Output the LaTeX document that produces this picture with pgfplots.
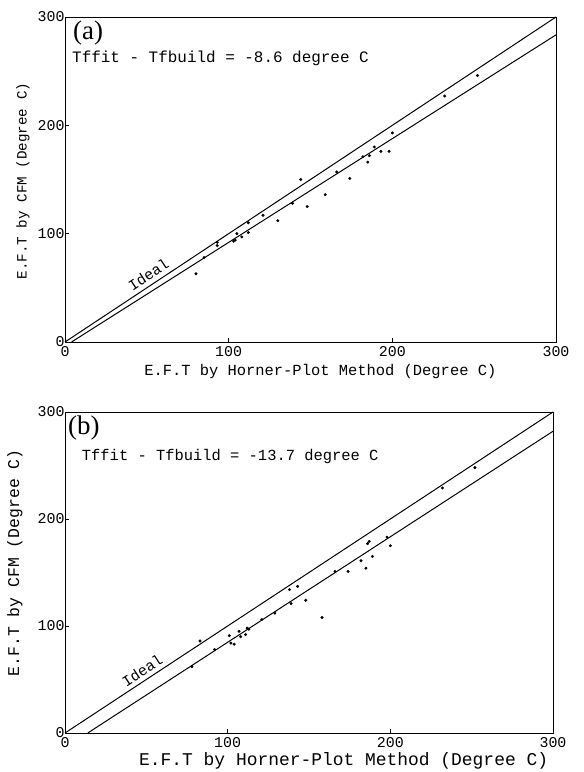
\documentclass[border=0pt]{standalone}
\usepackage{fontspec}
\setmainfont{Liberation Serif}
\newfontfamily\mono{Liberation Mono}
\usepackage{pgfplots}
\pgfplotsset{compat=1.18}

\newcommand{\tickfnt}{\mono\fontsize{15}{15}\selectfont}

\pgfplotsset{
  eft/.style={
    scale only axis,
    anchor=south west,
    xmin=0, xmax=300, ymin=0, ymax=300,
    xtick={0,100,200,300}, ytick={0,100,200,300},
    tick align=inside, xtick pos=bottom, ytick pos=left,
    major tick length=4bp,
    axis line style={line width=0.9bp},
    tick style={line width=0.8bp, black},
    /pgf/number format/assume math mode=true,
    tick label style={font=\tickfnt},
    xticklabel style={anchor=north, yshift=-1bp},
    yticklabel style={anchor=east, xshift=3bp},
    clip=false,
  },
  fitline/.style={black, line width=1bp},
  pts/.style={only marks, mark=*, mark size=1.3bp, black},
}

\begin{document}
\begin{tikzpicture}
\path[use as bounding box] (0,0) rectangle (584bp,772bp);

% ---- panel (a)
\begin{axis}[eft, at={(65bp,430bp)}, width=491bp, height=325bp]
\addplot[fitline] coordinates {(0,0) (300,300)};
\addplot[fitline] coordinates {(4,0) (300,283.5)};
\addplot[pts] coordinates {
  (80,63) (85,78) (93,89) (93,92) (103,93) (104,94) (105,100) (108,97)
  (112,110) (112,101) (121,117) (130,112) (139,128) (144,150) (148,125)
  (159,136) (166,157) (174,151) (182,171) (185,166) (186,172) (189,180)
  (193,176) (198,176) (200,193) (232,227) (252,246)
};
\node[font=\mono\fontsize{15}{15}\selectfont, rotate=33.5, inner sep=0pt] at (axis cs:51,62) {Ideal};
\node[anchor=west, font=\fontsize{27}{27}\selectfont, inner sep=0pt] at (axis cs:4.9,285) {(a)};
\node[anchor=west, font=\mono\fontsize{16}{16}\selectfont, inner sep=0pt] at (axis cs:4.3,262) {Tffit - Tfbuild = -8.6 degree C};
\node[font=\mono\fontsize{15.5}{15.5}\selectfont] at ([yshift=-30bp]rel axis cs:0.52,0) {E.F.T by Horner-Plot Method (Degree C)};
\node[font=\mono\fontsize{14.3}{14.3}\selectfont, rotate=90] at ([xshift=-42bp]rel axis cs:0,0.495) {E.F.T by CFM (Degree C)};
\end{axis}

% ---- panel (b)
\begin{axis}[eft, at={(65bp,39bp)}, width=488bp, height=321bp]
\addplot[fitline] coordinates {(0,0) (300,300)};
\addplot[fitline] coordinates {(14,0) (300,282)};
\addplot[pts] coordinates {
  (78,62) (83,86) (92,78) (101,91) (102,84) (104,83) (107,95) (108,90)
  (111,92) (112,98) (113,97) (121,106) (129,112) (138,134) (143,137)
  (139,121) (148,124) (158,108) (166,151) (174,151) (182,161) (185,154)
  (186,177) (187,179) (189,165) (198,183) (200,175) (232,229) (252,248)
};
\node[font=\mono\fontsize{15}{15}\selectfont, rotate=33.3, inner sep=0pt] at (axis cs:47.5,58.5) {Ideal};
\node[anchor=west, font=\fontsize{27}{27}\selectfont, inner sep=0pt] at (axis cs:1.8,285) {(b)};
\node[anchor=west, font=\mono\fontsize{15.5}{15.5}\selectfont, inner sep=0pt] at (axis cs:10.3,258) {Tffit - Tfbuild = -13.7 degree C};
\node[font=\mono\fontsize{18}{18}\selectfont] at ([yshift=-28bp]rel axis cs:0.571,0) {E.F.T by Horner-Plot Method (Degree C)};
\node[font=\mono\fontsize{16.5}{16.5}\selectfont, rotate=90] at ([xshift=-50bp]rel axis cs:0,0.53) {E.F.T by CFM (Degree C)};
\end{axis}
\end{tikzpicture}
\end{document}
